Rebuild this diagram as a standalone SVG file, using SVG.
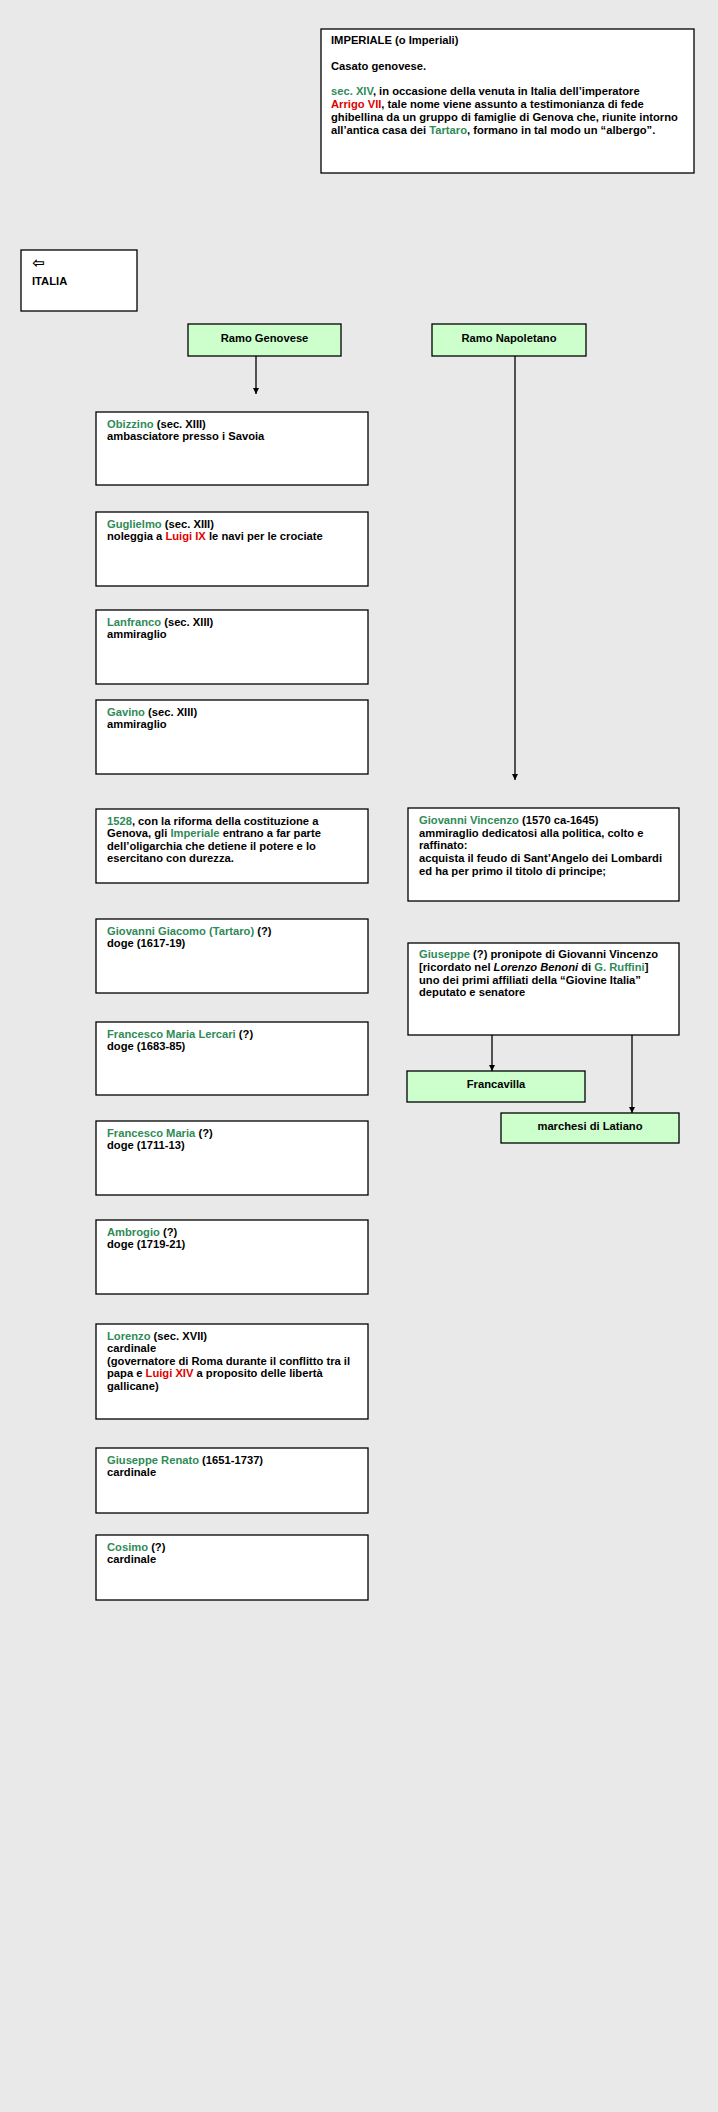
<svg xmlns="http://www.w3.org/2000/svg" width="718" height="2112" viewBox="0 0 718 2112">
<style>
.bg{fill:#e9e9e9}
.box{fill:#ffffff;stroke:#000000;stroke-width:1.3}
.gbox{fill:#ccffcc;stroke:#000000;stroke-width:1.3}
text{font-family:"Liberation Sans",Arial,sans-serif;font-size:11.2px;font-weight:bold;fill:#000000}
.c{text-anchor:middle}
.g{fill:#2e8b57}
.r{fill:#e00000}
.i{font-style:italic}
.conn{stroke:#000000;stroke-width:1.3;fill:none}
</style>
<defs>
<marker id="ah" viewBox="0 0 10 10" refX="10" refY="5" markerWidth="6" markerHeight="6" markerUnits="userSpaceOnUse" orient="auto">
<path d="M0,0 L10,5 L0,10 Z" fill="#000000"/>
</marker>
</defs>
<rect class="bg" x="0" y="0" width="718" height="2112"/>

<g id="connectors">
<line class="conn" x1="256" y1="356" x2="256" y2="394" marker-end="url(#ah)"/>
<line class="conn" x1="515" y1="356" x2="515" y2="780" marker-end="url(#ah)"/>
<line class="conn" x1="492" y1="1035" x2="492" y2="1071" marker-end="url(#ah)"/>
<line class="conn" x1="632" y1="1035" x2="632" y2="1113" marker-end="url(#ah)"/>
</g>

<g id="imperiale">
<rect class="box" x="321" y="29" width="373" height="144"/>
<text x="331" y="44">IMPERIALE (o Imperiali)</text>
<text x="331" y="69.5">Casato genovese.</text>
<text x="331" y="95"><tspan class="g">sec. XIV</tspan>, in occasione della venuta in Italia dell’imperatore</text>
<text x="331" y="108"><tspan class="r">Arrigo VII</tspan>, tale nome viene assunto a testimonianza di fede</text>
<text x="331" y="121">ghibellina da un gruppo di famiglie di Genova che, riunite intorno</text>
<text x="331" y="134">all’antica casa dei <tspan class="g">Tartaro</tspan>, formano in tal modo un “albergo”.</text>
</g>

<g id="italia">
<rect class="box" x="21" y="250" width="116" height="61"/>
<text x="32" y="268" style="font-family:'DejaVu Sans',sans-serif;font-size:15px">⇦</text>
<text x="32" y="285">ITALIA</text>
</g>

<g id="ramo-genovese">
<rect class="gbox" x="188" y="324" width="153" height="32"/>
<text class="c" x="264.5" y="342">Ramo Genovese</text>
</g>

<g id="ramo-napoletano">
<rect class="gbox" x="432" y="324" width="154" height="32"/>
<text class="c" x="509" y="342">Ramo Napoletano</text>
</g>

<g id="obizzino">
<rect class="box" x="96" y="412" width="272" height="73"/>
<text x="107" y="427.5"><tspan class="g">Obizzino</tspan> (sec. XIII)</text>
<text x="107" y="440">ambasciatore presso i Savoia</text>
</g>

<g id="guglielmo">
<rect class="box" x="96" y="512" width="272" height="74"/>
<text x="107" y="527.5"><tspan class="g">Guglielmo</tspan> (sec. XIII)</text>
<text x="107" y="540">noleggia a <tspan class="r">Luigi IX</tspan> le navi per le crociate</text>
</g>

<g id="lanfranco">
<rect class="box" x="96" y="610" width="272" height="74"/>
<text x="107" y="625.5"><tspan class="g">Lanfranco</tspan> (sec. XIII)</text>
<text x="107" y="638">ammiraglio</text>
</g>

<g id="gavino">
<rect class="box" x="96" y="700" width="272" height="74"/>
<text x="107" y="715.5"><tspan class="g">Gavino</tspan> (sec. XIII)</text>
<text x="107" y="728">ammiraglio</text>
</g>

<g id="riforma-1528">
<rect class="box" x="96" y="809" width="272" height="74"/>
<text x="107" y="824.5"><tspan class="g">1528</tspan>, con la riforma della costituzione a</text>
<text x="107" y="837">Genova, gli <tspan class="g">Imperiale</tspan> entrano a far parte</text>
<text x="107" y="849.5">dell’oligarchia che detiene il potere e lo</text>
<text x="107" y="862">esercitano con durezza.</text>
</g>

<g id="giovanni-vincenzo">
<rect class="box" x="408" y="808" width="271" height="93"/>
<text x="419" y="824"><tspan class="g">Giovanni Vincenzo</tspan> (1570 ca-1645)</text>
<text x="419" y="836.5">ammiraglio dedicatosi alla politica, colto e</text>
<text x="419" y="849">raffinato:</text>
<text x="419" y="861.5">acquista il feudo di Sant’Angelo dei Lombardi</text>
<text x="419" y="874.5">ed ha per primo il titolo di principe;</text>
</g>

<g id="giovanni-giacomo">
<rect class="box" x="96" y="919" width="272" height="74"/>
<text x="107" y="934.5"><tspan class="g">Giovanni Giacomo (Tartaro)</tspan> (?)</text>
<text x="107" y="947">doge (1617-19)</text>
</g>

<g id="giuseppe">
<rect class="box" x="408" y="943" width="271" height="92"/>
<text x="419" y="958"><tspan class="g">Giuseppe</tspan> (?) pronipote di Giovanni Vincenzo</text>
<text x="419" y="971">[ricordato nel <tspan class="i">Lorenzo Benoni</tspan> di <tspan class="g">G. Ruffini</tspan>]</text>
<text x="419" y="983.5">uno dei primi affiliati della “Giovine Italia”</text>
<text x="419" y="996">deputato e senatore</text>
</g>

<g id="francavilla">
<rect class="gbox" x="407" y="1071" width="178" height="31"/>
<text class="c" x="496" y="1088">Francavilla</text>
</g>

<g id="latiano">
<rect class="gbox" x="501" y="1113" width="178" height="30"/>
<text class="c" x="590" y="1129.5">marchesi di Latiano</text>
</g>

<g id="francesco-maria-lercari">
<rect class="box" x="96" y="1022" width="272" height="73"/>
<text x="107" y="1037.5"><tspan class="g">Francesco Maria Lercari</tspan> (?)</text>
<text x="107" y="1050">doge (1683-85)</text>
</g>

<g id="francesco-maria">
<rect class="box" x="96" y="1121" width="272" height="74"/>
<text x="107" y="1136.5"><tspan class="g">Francesco Maria</tspan> (?)</text>
<text x="107" y="1149">doge (1711-13)</text>
</g>

<g id="ambrogio">
<rect class="box" x="96" y="1220" width="272" height="74"/>
<text x="107" y="1235.5"><tspan class="g">Ambrogio</tspan> (?)</text>
<text x="107" y="1248">doge (1719-21)</text>
</g>

<g id="lorenzo">
<rect class="box" x="96" y="1324" width="272" height="95"/>
<text x="107" y="1339.5"><tspan class="g">Lorenzo</tspan> (sec. XVII)</text>
<text x="107" y="1352">cardinale</text>
<text x="107" y="1364.5">(governatore di Roma durante il conflitto tra il</text>
<text x="107" y="1377">papa e <tspan class="r">Luigi XIV</tspan> a proposito delle libertà</text>
<text x="107" y="1389.5">gallicane)</text>
</g>

<g id="giuseppe-renato">
<rect class="box" x="96" y="1448" width="272" height="65"/>
<text x="107" y="1463.5"><tspan class="g">Giuseppe Renato</tspan> (1651-1737)</text>
<text x="107" y="1476">cardinale</text>
</g>

<g id="cosimo">
<rect class="box" x="96" y="1535" width="272" height="65"/>
<text x="107" y="1550.5"><tspan class="g">Cosimo</tspan> (?)</text>
<text x="107" y="1563">cardinale</text>
</g>
</svg>
